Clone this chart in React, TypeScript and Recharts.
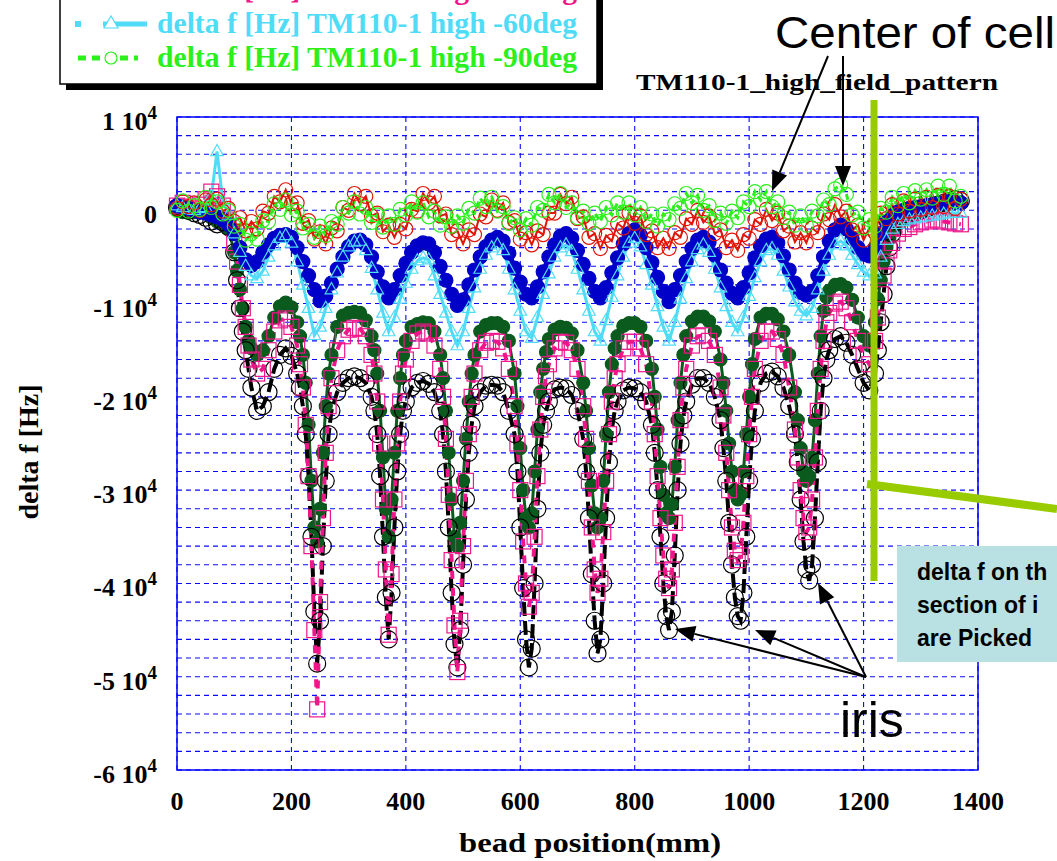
import React from "react"
import { ComposedChart, Line, XAxis, YAxis, CartesianGrid, ReferenceArea } from "recharts"

// bead position (mm) for the four upper traces, one reading every 10 mm
const positions = [
    0, 10, 20, 30, 40, 50, 60, 70, 80, 90,
    100, 110, 120, 130, 140, 150, 160, 170, 180, 190,
    200, 210, 220, 230, 240, 250, 260, 270, 280, 290,
    300, 310, 320, 330, 340, 350, 360, 370, 380, 390,
    400, 410, 420, 430, 440, 450, 460, 470, 480, 490,
    500, 510, 520, 530, 540, 550, 560, 570, 580, 590,
    600, 610, 620, 630, 640, 650, 660, 670, 680, 690,
    700, 710, 720, 730, 740, 750, 760, 770, 780, 790,
    800, 810, 820, 830, 840, 850, 860, 870, 880, 890,
    900, 910, 920, 930, 940, 950, 960, 970, 980, 990,
    1000, 1010, 1020, 1030, 1040, 1050, 1060, 1070, 1080, 1090,
    1100, 1110, 1120, 1130, 1140, 1150, 1160, 1170, 1180, 1190,
    1200, 1210, 1220, 1230, 1240, 1250, 1260, 1270, 1280, 1290,
    1300, 1310, 1320, 1330, 1340, 1350, 1360, 1370,
]

// bead position (mm) for the three lower traces, every 5 mm around the irises
const lowerPositions = [
    0, 10, 20, 30, 40, 50, 60, 70, 80, 90,
    100, 105, 110, 115, 120, 125, 130, 140, 150, 160,
    170, 180, 190, 200, 210, 215, 220, 225, 230, 235,
    240, 245, 250, 255, 260, 265, 270, 280, 290, 300,
    310, 320, 330, 340, 345, 350, 355, 360, 365, 370,
    375, 380, 385, 390, 395, 400, 410, 420, 430, 440,
    450, 460, 465, 470, 475, 480, 485, 490, 495, 500,
    505, 510, 515, 520, 530, 540, 550, 560, 570, 580,
    590, 595, 600, 605, 610, 615, 620, 625, 630, 635,
    640, 645, 650, 660, 670, 680, 690, 700, 710, 715,
    720, 725, 730, 735, 740, 745, 750, 755, 760, 765,
    770, 780, 790, 800, 810, 820, 830, 835, 840, 845,
    850, 855, 860, 865, 870, 875, 880, 885, 890, 900,
    910, 920, 930, 940, 950, 955, 960, 965, 970, 975,
    980, 985, 990, 995, 1000, 1005, 1010, 1020, 1030, 1040,
    1050, 1060, 1070, 1080, 1085, 1090, 1095, 1100, 1105, 1110,
    1115, 1120, 1125, 1130, 1135, 1140, 1150, 1160, 1170, 1180,
    1190, 1200, 1210, 1220, 1225, 1230, 1235, 1240, 1245, 1250,
    1260, 1270, 1280, 1290, 1300, 1310, 1320, 1330, 1340, 1350,
    1360, 1370,
]

// delta f [Hz], dark green filled circles (lowerPositions)
const darkGreenHz = [
    0, -200, -300, -200, 0, -300, -800, -1200, -1500, -2000,
    -4500, -6500, -8500, -10500, -12500, -14000, -14800, -15500, -15000, -13500,
    -11500, -10300, -9900, -10400, -12000, -13500, -15500, -18500, -23000, -29000,
    -34000, -35500, -32000, -26000, -21000, -17500, -15500, -12500, -11300, -11000,
    -10900, -11000, -11800, -13500, -15000, -17500, -21500, -26500, -32000, -35000,
    -31000, -26000, -21500, -18000, -15500, -14000, -12500, -12200, -12000, -12100,
    -13000, -15500, -18000, -21500, -26000, -31000, -35000, -36000, -33500, -29000,
    -24500, -20500, -17500, -15500, -13000, -12300, -12100, -12100, -12500, -14000,
    -17500, -21000, -25500, -30000, -33000, -34000, -32500, -28000, -23500, -19500,
    -17000, -15200, -13800, -12800, -12500, -12600, -13200, -15000, -18500, -21500,
    -25500, -29500, -32500, -34000, -33000, -29000, -24000, -19500, -16500, -14800,
    -13500, -12400, -12100, -12100, -12500, -14000, -17000, -20000, -23500, -27500,
    -30500, -32500, -33000, -31500, -27500, -22500, -18500, -15500, -13500, -11900,
    -11400, -11400, -11900, -13000, -16000, -18500, -21500, -25000, -28000, -30000,
    -31000, -30500, -28000, -24000, -20000, -16500, -13800, -11500, -11100, -11100,
    -11700, -13000, -15500, -19500, -22500, -25500, -28000, -29000, -28500, -26500,
    -22500, -17500, -13500, -10800, -9300, -8600, -8000, -7900, -8300, -9600,
    -11500, -13500, -14500, -12000, -9500, -7500, -5500, -4000, -3000, -2200,
    -1200, -800, -500, -300, -100, 100, 300, 400, 600, 700,
    800, 800,
]

// delta f [Hz], black open circles (lowerPositions)
const blackHz = [
    300, 200, 0, -300, -500, -800, -1200, -1500, -1300, -1800,
    -4500, -7500, -10500, -13000, -15000, -17000, -19000, -21500, -21000, -19500,
    -17000, -15500, -14800, -15600, -17500, -19000, -21000, -24000, -28500, -35000,
    -43000, -48600, -44000, -36000, -29000, -24000, -21500, -19500, -18500, -18000,
    -17800, -18000, -18500, -20000, -21500, -24000, -28500, -35000, -41500, -46000,
    -41000, -34000, -28000, -24000, -21500, -20500, -19000, -18500, -18300, -18600,
    -19500, -21500, -24000, -28000, -34000, -41000, -46500, -49000, -45000, -38000,
    -31000, -26000, -23000, -21000, -19500, -18800, -18700, -18800, -19500, -21500,
    -24000, -28000, -34000, -40500, -46000, -49000, -47000, -40000, -32000, -26000,
    -23000, -21500, -20500, -19200, -19000, -19100, -19800, -21500, -24500, -28000,
    -33000, -39000, -44000, -47500, -46000, -40000, -33000, -27000, -23500, -21500,
    -20500, -19300, -19000, -19100, -19500, -20500, -23000, -26000, -30000, -35000,
    -40000, -43500, -45000, -43000, -37000, -30000, -25000, -22000, -20500, -18700,
    -18000, -18000, -18500, -20000, -22500, -25500, -29000, -33500, -38000, -41500,
    -43500, -44000, -41000, -35000, -29000, -24500, -21500, -18500, -17500, -17300,
    -17800, -19000, -21000, -24000, -27000, -31000, -35500, -38500, -39700, -38000,
    -33000, -27000, -21500, -18000, -16000, -15000, -13800, -13500, -14200, -15500,
    -17000, -18500, -19300, -17500, -15000, -12000, -9000, -6000, -4000, -2500,
    -1200, -800, -500, -300, 0, 200, 400, 600, 800, 1000,
    1200, 1000,
]

// delta f [Hz] TM110-1 high -30deg, pink squares (lowerPositions)
const pinkHz = [
    500, 800, 400, 200, 600, 1200, 2000, 1500, 500, -1000,
    -3500, -5500, -8000, -10500, -12500, -14500, -16000, -17500, -17000, -15000,
    -13000, -11800, -11600, -12500, -14500, -16500, -19000, -23000, -28500, -36000,
    -45000, -53500, -42000, -33000, -26000, -21000, -18000, -15000, -13500, -12800,
    -12600, -12700, -13500, -15500, -17500, -20500, -25000, -31000, -38500, -45500,
    -39000, -31000, -25000, -20500, -17500, -16000, -14000, -13200, -13000, -13200,
    -14500, -17000, -20000, -24500, -30500, -37500, -44500, -49500, -44000, -36000,
    -29000, -24000, -20000, -17500, -15000, -14200, -14000, -14100, -14800, -17000,
    -21000, -25000, -30000, -35500, -40000, -42500, -41000, -35000, -28500, -23500,
    -20000, -17800, -16500, -14800, -14100, -14200, -15000, -17000, -21000, -24500,
    -29000, -34000, -38500, -41000, -39500, -34500, -29000, -24000, -20500, -18000,
    -16500, -14800, -14100, -14100, -14800, -16500, -20500, -24000, -28500, -33000,
    -37000, -39500, -40500, -38500, -33500, -27500, -22500, -19000, -17000, -14500,
    -13500, -13400, -14000, -15500, -19000, -22000, -26000, -30000, -34000, -36500,
    -37500, -37000, -33500, -28500, -24000, -20000, -17000, -14000, -13000, -13000,
    -13800, -15500, -19000, -23500, -26500, -30000, -33000, -34500, -34000, -31000,
    -26500, -21500, -17000, -14000, -12000, -11000, -10000, -9800, -10500, -12000,
    -14000, -15500, -16500, -14000, -11500, -9000, -7000, -5500, -4300, -3500,
    -2500, -2000, -1800, -1500, -1300, -1200, -1000, -1100, -1200, -1300,
    -1400, -1500,
]

// delta f [Hz], blue filled circles (positions)
const blueHz = [
    500, 300, 200, 0, -200, -300, -500, -700, -1000, -1500,
    -2500, -4000, -5300, -5900, -5500, -4500, -3700, -3000, -2700, -2600,
    -2900, -4000, -5500, -7000, -8500, -9700, -9200, -7800, -6300, -5000,
    -3900, -3300, -3200, -3700, -5000, -6600, -8200, -9400, -8500, -7000,
    -5700, -4500, -3800, -3500, -3600, -4500, -6000, -7500, -9000, -10200,
    -9600, -8000, -6400, -5000, -3900, -3200, -2900, -3300, -4600, -6200,
    -7700, -9000, -9400, -8200, -6600, -5000, -3700, -2800, -2500, -3000,
    -4300, -5800, -7300, -8700, -9400, -8300, -6700, -5100, -3600, -2500,
    -2100, -2700, -4000, -5600, -7200, -8700, -9800, -8500, -7000, -5500,
    -4100, -3200, -2900, -3400, -4800, -6400, -7800, -8900, -9400, -8300,
    -6700, -5100, -3800, -3100, -2900, -3500, -4900, -6400, -7800, -8800,
    -9100, -8700, -7000, -5000, -3300, -2100, -1600, -2000, -3000, -4000,
    -4700, -4900, -4000, -2500, -1300, -600, -200, 0, 200, 300,
    400, 500, 600, 700, 800, 900, 900, 800,
]

// delta f [Hz] TM110-1 high -60deg, cyan triangles (positions)
const cyanHz = [
    500, 300, 100, 0, 200, 300, 1500, 6300, 1000, -500,
    -2500, -4500, -6000, -7000, -7300, -6500, -5000, -3800, -3000, -2700,
    -3500, -5500, -8000, -10500, -13400, -12500, -10500, -8500, -6700, -5000,
    -3900, -3400, -3300, -4300, -6200, -8500, -11000, -13000, -11500, -9500,
    -7800, -6300, -5400, -5100, -5300, -7000, -9000, -11000, -13000, -14500,
    -13000, -10500, -8300, -6300, -4800, -4000, -3700, -4300, -6300, -8500,
    -10800, -13000, -13700, -11500, -9000, -6800, -5000, -4000, -3700, -4400,
    -6300, -8500, -10800, -13000, -14000, -11800, -9300, -7000, -5000, -3500,
    -3000, -3900, -5800, -8000, -10300, -12500, -14000, -12000, -9500, -7300,
    -5500, -4200, -3700, -4500, -6300, -8300, -10300, -12000, -13000, -11500,
    -9200, -7200, -5500, -4300, -4100, -4800, -6500, -8200, -9800, -10800,
    -11300, -10500, -8500, -6500, -4800, -3700, -3300, -3800, -4800, -5800,
    -6600, -7000, -6800, -5000, -3200, -2000, -1500, -1200, -1000, -900,
    -800, -700, -600, -500, -400, -300, -300, -300,
]

// delta f [Hz], red open circles (positions)
const redHz = [
    200, 900, 400, 800, 0, 1100, 600, 1200, -100, 200,
    -1200, -800, -2200, -1200, -2000, -100, -300, 1500, 900, 2200,
    700, 800, -1400, -1100, -3100, -2300, -3600, -1900, -2200, 300,
    0, 1800, 700, 1500, -600, -300, -2300, -1600, -2900, -1500,
    -2000, 100, -100, 1800, 800, 1500, -600, -400, -2600, -2200,
    -3600, -2100, -2600, -400, -700, 1100, 0, 800, -1300, -1100,
    -3100, -2400, -3700, -2200, -2600, -300, -300, 1700, 700, 1400,
    -900, -700, -2900, -2500, -4100, -2700, -3300, -1400, -1900, -300,
    -1400, -600, -2600, -2200, -4000, -3000, -4100, -2400, -2900, -900,
    -1500, 0, -1300, -600, -2500, -2100, -4000, -3200, -4300, -2600,
    -3000, -1000, -1500, 100, -1100, -300, -2200, -1700, -3400, -2400,
    -3500, -1900, -2400, -400, -1000, 600, -700, -100, -2100, -1600,
    -3200, -1900, -2400, -300, -900, 600, -400, 1000, -100, 1200,
    100, 1400, 300, 1600, 400, 1500, 200, 1200,
]

// delta f [Hz] TM110-1 high -90deg, green open circles (positions)
const greenHz = [
    0, 1000, -100, 500, 100, 1400, 300, 900, -400, 0,
    -1700, -1500, -3200, -2500, -3100, -1100, -1200, 700, 100, 1100,
    -500, -100, -1900, -1500, -2900, -1700, -2700, -1200, -1500, 300,
    -300, 900, -400, 300, -1300, -500, -1800, -600, -1500, 100,
    -500, 900, -200, 800, -700, -100, -1600, -700, -1700, -600,
    -1400, 200, -300, 1300, 400, 1400, -100, 400, -1400, -800,
    -2100, -900, -1600, 300, 0, 1700, 800, 1800, 300, 800,
    -800, -100, -1400, -300, -1200, 300, -500, 800, -200, 800,
    -500, 300, -1200, -400, -1700, -400, -1000, 700, 200, 1800,
    800, 1600, 0, 500, -1100, -300, -1400, -100, -800, 900,
    400, 2000, 1100, 2000, 400, 900, -800, -200, -1600, -600,
    -1600, -100, -600, 1100, 600, 2300, 2700, 1700, -500, -200,
    -1900, -1000, -1700, 200, -200, 1400, 500, 1800, 800, 2100,
    1200, 2200, 1300, 2600, 1700, 2600, 1000, 1500,
]

const xTicks = [0, 200, 400, 600, 800, 1000, 1200, 1400]
const yGridTicks = [
    10000, 8000, 6000, 4000, 2000, 0, -2000, -4000, -6000, -8000,
    -10000, -12000, -14000, -16000, -18000, -20000, -22000, -24000, -26000, -28000,
    -30000, -32000, -34000, -36000, -38000, -40000, -42000, -44000, -46000, -48000,
    -50000, -52000, -54000, -56000, -58000, -60000,
]
const yLabelTicks = [10000, 0, -10000, -20000, -30000, -40000, -50000, -60000]

const SERIF = '"Liberation Serif", "Times New Roman", serif'
const SANS = '"Liberation Sans", Arial, sans-serif'

const C = {
    red: "#e01508",
    green: "#2cf01c",
    blue: "#0000c8",
    cyan: "#4fdcf7",
    darkGreen: "#0b5a1e",
    pink: "#ef168a",
    black: "#000000",
    grid: "#0a0aff",
    lime: "#99cc00",
}

const upperRows = positions.map((x, i) => ({
    x,
    blue: blueHz[i],
    cyan: cyanHz[i],
    red: redHz[i],
    green: greenHz[i],
}))

const lowerRows = lowerPositions.map((x, i) => ({
    x,
    darkGreen: darkGreenHz[i],
    black: blackHz[i],
    pink: pinkHz[i],
}))

function circleDot(stroke: string, fill: string, r: number) {
    return (p: any) => {
        if (p.cx == null || p.cy == null) return <g key={p.index} />
        return <circle key={p.index} cx={p.cx} cy={p.cy} r={r} stroke={stroke} strokeWidth={1.2} fill={fill} />
    }
}

function squareDot(stroke: string, s: number) {
    return (p: any) => {
        if (p.cx == null || p.cy == null) return <g key={p.index} />
        return <rect key={p.index} x={p.cx - s / 2} y={p.cy - s / 2} width={s} height={s} stroke={stroke} strokeWidth={1.2} fill="none" />
    }
}

function triangleDot(stroke: string, s: number) {
    return (p: any) => {
        if (p.cx == null || p.cy == null) return <g key={p.index} />
        const { cx, cy } = p
        const d = `M${cx},${cy - s} L${cx + s * 0.9},${cy + s * 0.6} L${cx - s * 0.9},${cy + s * 0.6} Z`
        return <path key={p.index} d={d} stroke={stroke} strokeWidth={1.2} fill="none" />
    }
}

function YTick(props: any) {
    const { x, y, payload } = props
    const v = payload.value
    if (!yLabelTicks.includes(v)) return <g />
    return (
        <text x={x} y={y + 13} textAnchor="end" fontFamily={SERIF} fontWeight="bold" fontSize={26} fill="#000">
            {v === 0 ? "0" : `${v / 10000} 10`}
            {v !== 0 && <tspan fontSize={19} dy={-11}>4</tspan>}
        </text>
    )
}

function XTick(props: any) {
    const { x, y, payload } = props
    return (
        <text x={x} y={y + 40} textAnchor="middle" fontFamily={SERIF} fontWeight="bold" fontSize={26} fill="#000">
            {payload.value}
        </text>
    )
}

function Arrow({ x1, y1, x2, y2 }: { x1: number; y1: number; x2: number; y2: number }) {
    const dx = x2 - x1
    const dy = y2 - y1
    const len = Math.hypot(dx, dy)
    const ux = dx / len
    const uy = dy / len
    const hl = 20
    const hw = 8
    const bx = x2 - ux * hl
    const by = y2 - uy * hl
    const pts = `${x2},${y2} ${bx - uy * hw},${by + ux * hw} ${bx + uy * hw},${by - ux * hw}`
    return (
        <g>
            <line x1={x1} y1={y1} x2={bx} y2={by} stroke="#000" strokeWidth={2} />
            <polygon points={pts} fill="#000" />
        </g>
    )
}

function Overlay() {
    const legendText = { fontFamily: SERIF, fontWeight: "bold" as const, fontSize: 30 }
    return (
        <svg width={1057} height={861} style={{ position: "absolute", left: 0, top: 0, pointerEvents: "none" }}>
            {/* legend box, cut by the top of the picture */}
            <rect x={66} y={-10} width={537} height={100} fill="#000" />
            <rect x={60} y={-16} width={537} height={100} fill="#fff" stroke="#000" strokeWidth={1.5} />
            <text x={157} y={-1} {...legendText} fill={C.pink} textLength={420} lengthAdjust="spacingAndGlyphs">
                delta f [Hz] TM110-1 high -30deg
            </text>
            <rect x={75} y={21} width={6} height={6} fill={C.cyan} />
            <line x1={103} y1={24} x2={147} y2={24} stroke={C.cyan} strokeWidth={5} />
            <path d="M111,16 L118,28 L104,28 Z" fill="#fff" stroke={C.cyan} strokeWidth={1.2} />
            <text x={157} y={33} {...legendText} fill={C.cyan} textLength={420} lengthAdjust="spacingAndGlyphs">
                delta f [Hz] TM110-1 high -60deg
            </text>
            <line x1={78} y1={58} x2={138} y2={58} stroke={C.green} strokeWidth={5} strokeDasharray="8 6" />
            <circle cx={111} cy={58} r={6} fill="#fff" stroke={C.green} strokeWidth={1.2} />
            <text x={157} y={67} {...legendText} fill={C.green} textLength={420} lengthAdjust="spacingAndGlyphs">
                delta f [Hz] TM110-1 high -90deg
            </text>

            {/* annotations */}
            <text x={775} y={48} fontFamily={SANS} fontSize={45} fill="#000" textLength={280} lengthAdjust="spacingAndGlyphs">
                Center of cell
            </text>
            <text x={636} y={90} fontFamily={SERIF} fontWeight="bold" fontSize={24} fill="#000" textLength={362} lengthAdjust="spacingAndGlyphs">
                TM110-1_high_field_pattern
            </text>
            <Arrow x1={828} y1={56} x2={772} y2={191} />
            <Arrow x1={843} y1={56} x2={843} y2={186} />

            <line x1={874} y1={100} x2={874} y2={581} stroke={C.lime} strokeWidth={7} />
            <line x1={867} y1={484} x2={1057} y2={509} stroke={C.lime} strokeWidth={8} />

            <rect x={897} y={546} width={170} height={116} fill="#b9e0e3" />
            <g fontFamily={SANS} fontWeight="bold" fontSize={23} fill="#000">
                <text x={917} y={580}>delta f on th</text>
                <text x={917} y={613}>section of i</text>
                <text x={917} y={646}>are Picked</text>
            </g>

            <text x={840} y={737} fontFamily={SANS} fontSize={50} fill="#000">iris</text>
            <Arrow x1={866} y1={677} x2={675} y2={629} />
            <Arrow x1={866} y1={677} x2={755} y2={630} />
            <Arrow x1={866} y1={677} x2={818} y2={583} />

            {/* axis titles */}
            <text x={590} y={852} textAnchor="middle" fontFamily={SERIF} fontWeight="bold" fontSize={28} fill="#000" textLength={262} lengthAdjust="spacingAndGlyphs">
                bead position(mm)
            </text>
            <text transform="translate(38,452) rotate(-90)" textAnchor="middle" fontFamily={SERIF} fontWeight="bold" fontSize={27} fill="#000" textLength={135} lengthAdjust="spacingAndGlyphs">
                delta f [Hz]
            </text>
        </svg>
    )
}

export default function App() {
    return (
        <div style={{ position: "absolute", left: 0, top: 0, width: 1057, height: 861, background: "#fff" }}>
            <ComposedChart width={1057} height={861} data={upperRows} margin={{ top: 117, right: 79, bottom: 51, left: 97 }}>
                <CartesianGrid
                    stroke={C.grid}
                    strokeDasharray="5 4"
                    strokeWidth={1.1}
                    horizontalValues={yGridTicks}
                    verticalValues={xTicks}
                />
                <XAxis
                    type="number"
                    dataKey="x"
                    domain={[0, 1400]}
                    ticks={xTicks}
                    interval={0}
                    height={40}
                    tickSize={0}
                    tickMargin={0}
                    axisLine={false}
                    tick={<XTick />}
                    allowDuplicatedCategory={false}
                />
                <YAxis
                    type="number"
                    domain={[-60000, 10000]}
                    ticks={yGridTicks}
                    interval={0}
                    width={80}
                    tickSize={0}
                    tickMargin={20}
                    axisLine={false}
                    tick={<YTick />}
                />
                <ReferenceArea x1={0} x2={1400} y1={-60000} y2={10000} fill="none" stroke="#0000ff" strokeWidth={1.5} />
                <Line data={lowerRows} dataKey="darkGreen" type="linear" stroke={C.darkGreen} strokeWidth={3} dot={circleDot(C.darkGreen, C.darkGreen, 6.5)} isAnimationActive={false} />
                <Line data={lowerRows} dataKey="black" type="linear" stroke={C.black} strokeWidth={4} strokeDasharray="14 5" dot={circleDot(C.black, "none", 8.5)} isAnimationActive={false} />
                <Line data={lowerRows} dataKey="pink" type="linear" stroke={C.pink} strokeWidth={4} strokeDasharray="8 9" dot={squareDot(C.pink, 15)} isAnimationActive={false} />
                <Line dataKey="blue" type="linear" stroke={C.blue} strokeWidth={5} dot={circleDot(C.blue, C.blue, 7)} isAnimationActive={false} />
                <Line dataKey="cyan" type="linear" stroke={C.cyan} strokeWidth={3} dot={triangleDot(C.cyan, 7)} isAnimationActive={false} />
                <Line dataKey="red" type="linear" stroke={C.red} strokeWidth={2} dot={circleDot(C.red, "none", 7)} isAnimationActive={false} />
                <Line dataKey="green" type="linear" stroke={C.green} strokeWidth={3} strokeDasharray="6 4" dot={circleDot(C.green, "none", 7)} isAnimationActive={false} />
            </ComposedChart>
            <Overlay />
        </div>
    )
}
